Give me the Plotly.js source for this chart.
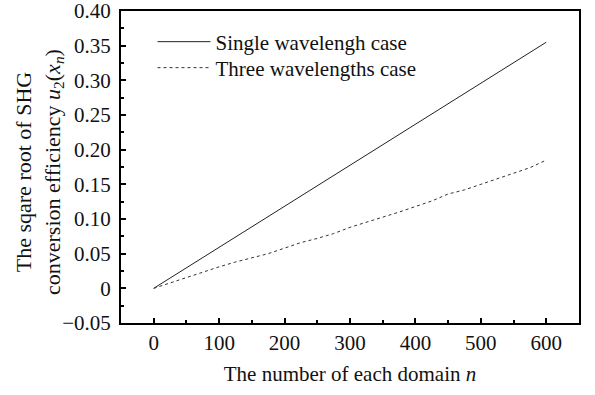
<!DOCTYPE html>
<html>
<head>
<meta charset="utf-8">
<script src="https://cdn.plot.ly/plotly-3.0.1.min.js"></script>
<style>html,body{margin:0;padding:0;background:#fff;}#chart{width:595px;height:395px;}</style>
</head>
<body>
<div id="chart"></div>
<script>
const nSingle = [0, 600];
const uSingle = [0, 0.355];
const nThree = [0, 25, 50, 75, 100, 125, 150, 175, 200, 225, 250, 275, 300, 325, 350, 375, 400, 425, 450, 475, 500, 525, 550, 575, 600];
const uThree = [0, 0.008, 0.016, 0.024, 0.031, 0.038, 0.044, 0.050, 0.058, 0.066, 0.072, 0.079, 0.088, 0.095, 0.102, 0.110, 0.118, 0.126, 0.136, 0.142, 0.150, 0.158, 0.165, 0.174, 0.185];
const seriesNames = ["Single wavelengh case", "Three wavelengths case"];
const xTickVals = [0, 100, 200, 300, 400, 500, 600];
const yTickVals = [-0.05, 0, 0.05, 0.10, 0.15, 0.20, 0.25, 0.30, 0.35, 0.40];
const yTickText = ["\u22120.05", "0", "0.05", "0.10", "0.15", "0.20", "0.25", "0.30", "0.35", "0.40"];
const xTitle = "The number of each domain <i>n</i>";
const yTitle = "The sqare root of SHG<br>conversion efficiency <i>u</i><sub>2</sub>(<i>x</i><sub><i>n</i></sub>)";

const fam = "Liberation Serif, Times New Roman, serif";
const font = {family: fam, size: 21, color: "#111"};

const traces = [
  {x: nSingle, y: uSingle, name: seriesNames[0], mode: "lines", line: {color: "#222", width: 1}, legend: "legend"},
  {x: nThree, y: uThree, name: seriesNames[1], mode: "lines", line: {color: "#333", width: 1, dash: "3px,3px"}, legend: "legend2"}
];

const legBase = {x: 0.0688, xanchor: "left", yanchor: "middle", bgcolor: "rgba(0,0,0,0)", font: {family: fam, size: 21, color: "#111"}, itemwidth: 53};

const layout = {
  width: 595, height: 395,
  margin: {l: 121, r: 16, t: 11, b: 72},
  paper_bgcolor: "#fff", plot_bgcolor: "#fff",
  font: font,
  showlegend: true,
  legend: Object.assign({}, legBase, {y: 0.9006}),
  legend2: Object.assign({}, legBase, {y: 0.8173}),
  xaxis: {
    range: [-50, 650], showgrid: false, zeroline: false,
    showline: true, linewidth: 2, linecolor: "#000", mirror: true,
    ticks: "inside", ticklen: 5, tickwidth: 2, tickcolor: "#000",
    tickvals: xTickVals, ticktext: xTickVals.map(String),
    ticklabeloverflow: "allow",
    minor: {ticks: "inside", ticklen: 3, tickwidth: 2, tickcolor: "#000", dtick: 50, tick0: 0, showgrid: false},
    tickfont: font,
    title: {text: xTitle, font: font, standoff: 12}
  },
  yaxis: {
    range: [-0.05, 0.40], showgrid: false, zeroline: false,
    showline: true, linewidth: 2, linecolor: "#000", mirror: true,
    ticks: "inside", ticklen: 5, tickwidth: 2, tickcolor: "#000",
    tickvals: yTickVals, ticktext: yTickText,
    ticklabelstandoff: 4,
    ticklabeloverflow: "allow",
    minor: {ticks: "inside", ticklen: 3, tickwidth: 2, tickcolor: "#000", dtick: 0.025, tick0: 0, showgrid: false},
    tickfont: font
  },
  annotations: [{
    text: yTitle, xref: "paper", yref: "paper", x: 0, y: 0.484,
    xanchor: "center", yanchor: "middle", xshift: -82,
    textangle: -90, align: "center", showarrow: false,
    font: {family: fam, size: 22, color: "#111"}
  }]
};

Plotly.newPlot("chart", traces, layout, {staticPlot: true, displayModeBar: false});
</script>
</body>
</html>
